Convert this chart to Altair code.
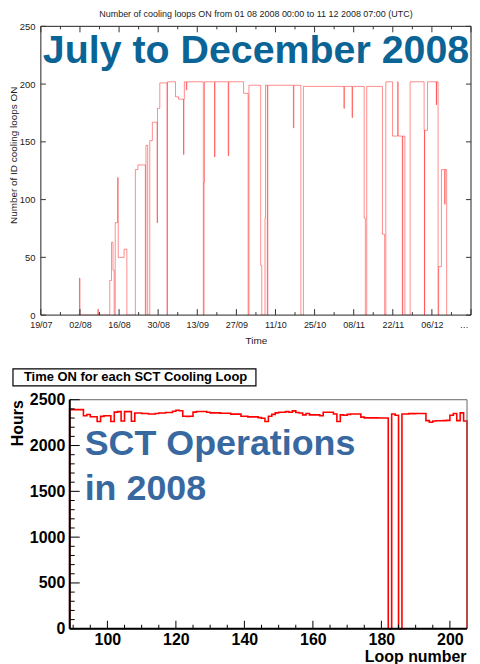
import altair as alt
import pandas as pd

FONT = "Liberation Sans"

# ---------------- top panel: number of cooling loops ON ----------------
top_title = "Number of cooling loops ON from 01 08 2008 00:00  to  11 12 2008 07:00  (UTC)"
top_overlay = "July to December 2008"

top_times = [
    "2008-08-01T00:00", "2008-08-01T20:00", "2008-08-02T00:00", "2008-08-08T09:00",
    "2008-08-08T15:00", "2008-08-12T16:00", "2008-08-13T07:00", "2008-08-13T20:00",
    "2008-08-14T06:00", "2008-08-14T15:00", "2008-08-15T11:00", "2008-08-15T17:00",
    "2008-08-17T19:00", "2008-08-18T19:00", "2008-08-21T20:00", "2008-08-22T18:00",
    "2008-08-25T10:00", "2008-08-25T15:00", "2008-08-26T06:00", "2008-08-27T00:00",
    "2008-08-27T22:00", "2008-08-29T15:00", "2008-08-29T18:00", "2008-08-30T14:00",
    "2008-09-02T04:00", "2008-09-02T08:00", "2008-09-05T05:00", "2008-09-06T07:00",
    "2008-09-08T02:00", "2008-09-08T05:00", "2008-09-08T09:00", "2008-09-09T02:00",
    "2008-09-09T06:00", "2008-09-15T04:00", "2008-09-15T10:00", "2008-09-15T14:00",
    "2008-09-19T04:00", "2008-09-19T08:00", "2008-09-24T02:00", "2008-09-24T06:00",
    "2008-09-29T14:00", "2008-10-01T05:00", "2008-10-01T12:00", "2008-10-05T17:00",
    "2008-10-06T02:00", "2008-10-07T06:00", "2008-10-07T10:00", "2008-10-08T02:00",
    "2008-10-08T06:00", "2008-10-17T10:00", "2008-10-17T14:00", "2008-10-20T02:00",
    "2008-10-21T00:00", "2008-11-04T12:00", "2008-11-04T16:00", "2008-11-07T10:00",
    "2008-11-07T14:00", "2008-11-11T18:00", "2008-11-12T04:00", "2008-11-12T16:00",
    "2008-11-18T07:00", "2008-11-19T02:00", "2008-11-19T12:00", "2008-11-21T22:00",
    "2008-11-23T18:00", "2008-11-23T22:00", "2008-11-25T10:00", "2008-11-25T14:00",
    "2008-11-26T08:00", "2008-11-28T05:00", "2008-12-03T05:00", "2008-12-03T08:00",
    "2008-12-03T10:00", "2008-12-04T10:00", "2008-12-07T14:00", "2008-12-07T16:00",
    "2008-12-08T05:00", "2008-12-08T10:00", "2008-12-09T10:00", "2008-12-10T14:00",
    "2008-12-10T17:00", "2008-12-11T07:00",
]
top_values = [
    0, 32, 0, 5,
    0, 30, 63, 39,
    0, 80, 119, 50,
    57, 0, 126, 130,
    0, 147, 0, 151,
    167, 80, 179, 201,
    0, 202, 189, 187,
    139, 187, 202, 195,
    202, 0, 115, 202,
    137, 202, 138, 202,
    192, 0, 199, 43,
    0, 84, 199, 0,
    199, 162, 199, 0,
    198, 179, 198, 171,
    198, 84, 0, 198,
    70, 0, 202, 155,
    202, 155, 0, 155,
    0, 202, 160, 0,
    160, 202, 182, 202,
    0, 42, 126, 96,
    126, 0,
]

top_week_ticks = [
    "2008-07-19T00:00", "2008-07-26T00:00", "2008-08-02T00:00", "2008-08-09T00:00",
    "2008-08-16T00:00", "2008-08-23T00:00", "2008-08-30T00:00", "2008-09-06T00:00",
    "2008-09-13T00:00", "2008-09-20T00:00", "2008-09-27T00:00", "2008-10-04T00:00",
    "2008-10-11T00:00", "2008-10-18T00:00", "2008-10-25T00:00", "2008-11-01T00:00",
    "2008-11-08T00:00", "2008-11-15T00:00", "2008-11-22T00:00", "2008-11-29T00:00",
    "2008-12-06T00:00", "2008-12-13T00:00", "2008-12-20T00:00",
]
top_label_dates = [(7, 19), (8, 2), (8, 16), (8, 30), (9, 13), (9, 27), (10, 11),
                   (10, 25), (11, 8), (11, 22), (12, 6)]
top_last_label = {"t": "2008-12-20T00:00", "label": "20/12"}   # cut at the right edge
top_y_ticks = [0, 50, 100, 150, 200, 250]

# ---------------- bottom panel: time ON per SCT loop ----------------
bottom_title = "Time ON for each SCT Cooling Loop"
bottom_overlay = "SCT Operations\nin 2008"
loops = list(range(89, 205))
hours = [
    2392, 2392, 2392, 2392, 2325, 2338, 2315, 2315, 2262, 2318,   # 89-98
    2325, 2325, 2263, 2365, 2370, 2268, 2370, 2370, 2265, 2355,   # 99-108
    2355, 2350, 2350, 2345, 2345, 2350, 2355, 2355, 2360, 2360,   # 109-118
    2375, 2385, 2380, 2320, 2318, 2320, 2365, 2371, 2371, 2371,   # 119-128
    2364, 2357, 2357, 2357, 2352, 2352, 2352, 2343, 2343, 2343,   # 129-138
    2320, 2320, 2313, 2313, 2313, 2305, 2298, 2262, 2320, 2340,   # 139-148
    2357, 2364, 2364, 2370, 2364, 2378, 2360, 2355, 2335, 2350,   # 149-158
    2335, 2335, 2335, 2325, 2364, 2364, 2364, 2345, 2262, 2335,   # 159-168
    2330, 2340, 2345, 2345, 2345, 2310, 2302, 2302, 2302, 2302,   # 169-178
    2300, 2300, 2300, 0, 2345, 2330, 0, 2345, 2345, 2348,         # 179-188
    2348, 2350, 2350, 2350, 2272, 2255, 2268, 2270, 2270, 2272,   # 189-198
    2275, 2330, 2350, 2272, 2357, 2268,                           # 199-204
]
bottom_x_labels = [100, 120, 140, 160, 180, 200]
bottom_x_ticks = list(range(90, 205, 5))
bottom_y_labels = [0, 500, 1000, 1500, 2000, 2500]
bottom_y_minor = list(range(0, 2501, 100))

# ======================= TOP CHART =======================
W, H = 432, 290
top_df = pd.DataFrame({"t": top_times, "n": top_values, "i": range(len(top_times))})
week_df = pd.DataFrame({"t": top_week_ticks, "major": [k % 2 == 0 for k in range(len(top_week_ticks))]})
ytick_df = pd.DataFrame({"n": top_y_ticks})

xs_top = alt.Scale(domain=[alt.DateTime(year=2008, month=7, date=19),
                           alt.DateTime(year=2008, month=12, date=20)], nice=False)
ys_top = alt.Scale(domain=[0, 250], nice=False)

top_x_axis = alt.Axis(
    values=[alt.DateTime(year=2008, month=m, date=d) for m, d in top_label_dates],
    format="%d/%m", title="Time", grid=False, ticks=False, domain=False,
    labelFontSize=9, labelColor="#222", labelPadding=5, labelFlush=False,
    labelOverlap=False, labelFont=FONT, labelSeparation=0,
    titleFontSize=10, titleFontWeight="normal", titleColor="#222", titleFont=FONT,
    titleX=216, titleY=26, titleBaseline="middle")
top_y_axis = alt.Axis(
    values=top_y_ticks, title="Number of ID cooling loops ON", grid=False,
    ticks=False, domain=False, labelFontSize=9.5, labelColor="#222",
    labelPadding=6, labelFont=FONT, labelFlush=False, labelOverlap=False,
    titleFontSize=10, titleFontWeight="normal", titleColor="#222", titleFont=FONT,
    titleX=-22, titleY=129)

tx = alt.X("t:T", scale=xs_top, axis=top_x_axis)
ty = alt.Y("n:Q", scale=ys_top, axis=top_y_axis)

top_line = alt.Chart(top_df).mark_line(
    color="#ff0000", strokeWidth=1, opacity=0.45, interpolate="step-after", clip=True
).encode(x=tx, y=ty, order="i:Q")

one_row = alt.Data(values=[{"k": 1}])
top_frame = alt.Chart(one_row).mark_rect(fill="transparent", stroke="#222", strokeWidth=1).encode(
    x=alt.value(0), x2=alt.value(W), y=alt.value(0), y2=alt.value(H))

maj = alt.datum.major
bot_major = alt.Chart(week_df).transform_filter(maj).mark_rule(color="#333").encode(
    x=tx, y=alt.value(H), y2=alt.value(H - 6))
bot_minor = alt.Chart(week_df).transform_filter(~maj).mark_rule(color="#333").encode(
    x=tx, y=alt.value(H), y2=alt.value(H - 3))
top_major = alt.Chart(week_df).transform_filter(maj).mark_rule(color="#333").encode(
    x=tx, y=alt.value(0), y2=alt.value(6))
top_minor = alt.Chart(week_df).transform_filter(~maj).mark_rule(color="#333").encode(
    x=tx, y=alt.value(0), y2=alt.value(3))
left_ticks = alt.Chart(ytick_df).mark_rule(color="#333").encode(
    y=ty, x=alt.value(0), x2=alt.value(5))
right_ticks = alt.Chart(ytick_df).mark_rule(color="#333").encode(
    y=ty, x=alt.value(W), x2=alt.value(W - 5))

last_label = alt.Chart(alt.Data(values=[top_last_label])).mark_text(
    align="left", baseline="middle", fontSize=9, font=FONT, color="#222",
    dx=-11.25, limit=13, ellipsis=""
).encode(x=tx, y=alt.value(H + 10), text="label:N")

top_text = alt.Chart(alt.Data(values=[{"label": top_overlay}])).mark_text(
    align="left", baseline="alphabetic", fontSize=39.5, fontWeight="bold", font=FONT,
    color="#0b6496"
).encode(x=alt.value(2), y=alt.value(37), text="label:N")

top_chart = alt.layer(
    top_line, top_frame, bot_major, bot_minor, top_major, top_minor,
    left_ticks, right_ticks, last_label, top_text
).properties(
    width=W, height=H,
    title=alt.TitleParams(top_title, fontSize=9, fontWeight="normal", font=FONT,
                          color="#222", offset=2, anchor="middle"),
)

# ======================= BOTTOM CHART =======================
BW, BH = 432, 230
L0, R0 = 29, 428
edge_x = [loops[0]] + loops + [loops[-1] + 1, loops[-1] + 1]
edge_y = [0] + hours + [hours[-1], 0]
hist_df = pd.DataFrame({"loop": edge_x, "hours": edge_y, "i": range(len(edge_x))})

xs_b = alt.Scale(domain=[89, 205], range=[L0, R0], nice=False, zero=False)
ys_b = alt.Scale(domain=[0, 2500], nice=False)

b_x_axis = alt.Axis(
    values=bottom_x_labels, grid=False, ticks=False, domain=False, format="d",
    labelFontSize=16, labelFontWeight="bold", labelColor="black", labelFont=FONT,
    labelPadding=3, labelFlush=False, labelOverlap=False,
    title="Loop number", titleFontSize=16, titleFontWeight="bold", titleColor="black",
    titleFont=FONT, titleX=427, titleY=28, titleAlign="right", titleBaseline="middle")
b_y_axis = alt.Axis(
    values=bottom_y_labels, offset=-L0, grid=False, ticks=False, domain=False, format="d",
    labelFontSize=16, labelFontWeight="bold", labelColor="black", labelFont=FONT,
    labelPadding=5, labelFlush=False, labelOverlap=False,
    title="Hours", titleFontSize=16, titleFontWeight="bold", titleColor="black",
    titleFont=FONT, titleX=-44, titleY=23)

bxe = alt.X("loop:Q", scale=xs_b, axis=b_x_axis)
bye = alt.Y("hours:Q", scale=ys_b, axis=b_y_axis)

hist = alt.Chart(hist_df).mark_line(
    color="#ff0000", strokeWidth=1.6, interpolate="step-after"
).encode(x=bxe, y=bye, order="i:Q")

b_frame = alt.Chart(one_row).mark_rect(fill="transparent", stroke="#666", strokeWidth=1).encode(
    x=alt.value(L0), x2=alt.value(R0), y=alt.value(0), y2=alt.value(BH))
b_left = alt.Chart(one_row).mark_rule(color="black", strokeWidth=2).encode(
    x=alt.value(L0), y=alt.value(0), y2=alt.value(BH))
b_bottom = alt.Chart(one_row).mark_rule(color="black", strokeWidth=2).encode(
    x=alt.value(L0), x2=alt.value(R0), y=alt.value(BH))

bxt_df = pd.DataFrame({"loop": bottom_x_ticks, "major": [v % 20 == 0 for v in bottom_x_ticks]})
byt_df = pd.DataFrame({"hours": bottom_y_minor, "major": [v % 500 == 0 for v in bottom_y_minor]})
bx_major = alt.Chart(bxt_df).transform_filter(maj).mark_rule(color="black").encode(
    x=bxe, y=alt.value(BH), y2=alt.value(BH - 8))
bx_minor = alt.Chart(bxt_df).transform_filter(~maj).mark_rule(color="black").encode(
    x=bxe, y=alt.value(BH), y2=alt.value(BH - 4))
by_major = alt.Chart(byt_df).transform_filter(maj).mark_rule(color="black").encode(
    y=bye, x=alt.value(L0), x2=alt.value(L0 + 10))
by_minor = alt.Chart(byt_df).transform_filter(~maj).mark_rule(color="black").encode(
    y=bye, x=alt.value(L0), x2=alt.value(L0 + 5))

b_box = alt.Chart(one_row).mark_rect(fill="white", stroke="black", strokeWidth=1.2).encode(
    x=alt.value(-28), x2=alt.value(216), y=alt.value(-31), y2=alt.value(-14))
b_title = alt.Chart(alt.Data(values=[{"label": bottom_title}])).mark_text(
    align="left", baseline="middle", fontSize=13, fontWeight="bold", font=FONT, color="black"
).encode(x=alt.value(-17), y=alt.value(-22.5), text="label:N")

b_text = alt.Chart(alt.Data(values=[{"label": bottom_overlay}])).mark_text(
    align="left", baseline="alphabetic", fontSize=36, fontWeight="bold", font=FONT,
    color="#3868a0", lineBreak="\n", lineHeight=45
).encode(x=alt.value(44), y=alt.value(56), text="label:N")

bottom_chart = alt.layer(
    hist, b_frame, b_left, b_bottom, bx_major, bx_minor, by_major, by_minor,
    b_box, b_title, b_text
).properties(width=BW, height=BH)

chart = alt.vconcat(top_chart, bottom_chart, spacing=20).properties(
    padding={"left": 0, "top": 0, "right": 0, "bottom": 0}
).configure(font=FONT).configure_view(stroke="transparent")

chart.save("out.html", embed_options={"renderer": "svg", "actions": False})
